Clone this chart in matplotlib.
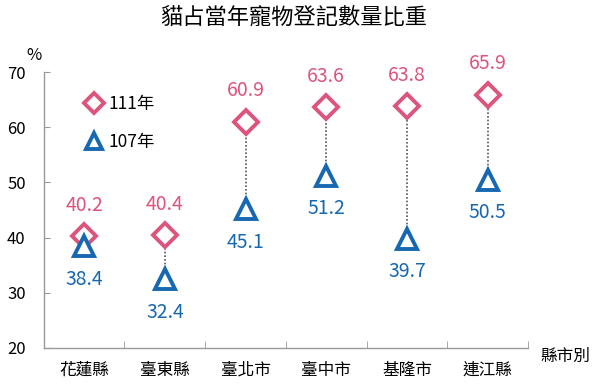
import matplotlib.pyplot as plt

plt.rcParams['font.family'] = ['Noto Sans CJK TC', 'DejaVu Sans']

# Data
counties = ["花蓮縣", "臺東縣", "臺北市", "臺中市", "基隆市", "連江縣"]
y111 = [40.2, 40.4, 60.9, 63.6, 63.8, 65.9]
y107 = [38.4, 32.4, 45.1, 51.2, 39.7, 50.5]

pink = "#DD547C"
blue = "#1768B1"

fig = plt.figure(figsize=(6, 3.9), dpi=100)
ax = fig.add_axes([0.073, 0.108, 0.807, 0.707])

x = list(range(len(counties)))

# dotted connectors
ax.vlines(x, y107, y111, colors="#555555", linestyles=(0, (1, 1.2)), linewidth=1.2, zorder=1)

ax.plot(x, y111, linestyle="none", marker="D", markersize=12.5, markerfacecolor="white",
        markeredgecolor=pink, markeredgewidth=2.8, label="111年", zorder=3)
ax.plot(x, y107, linestyle="none", marker="^", markersize=15, markerfacecolor="white",
        markeredgecolor=blue, markeredgewidth=2.8, label="107年", zorder=3)

for xi, a, b in zip(x, y111, y107):
    ax.annotate(f"{a:.1f}", (xi, a), xytext=(0, 15), textcoords="offset points",
                ha="center", va="bottom", color=pink, fontsize=14)
    ax.annotate(f"{b:.1f}", (xi, b), xytext=(0, -16), textcoords="offset points",
                ha="center", va="top", color=blue, fontsize=14)

ax.set_xlim(-0.5, len(counties) - 0.5)
ax.set_ylim(20, 70)
ax.set_yticks([20, 30, 40, 50, 60, 70])
ax.set_xticks(x)
ax.set_xticklabels(counties, fontsize=12)
ax.set_xticks([i + 0.5 for i in range(-1, len(counties))], minor=True)
ax.tick_params(axis="x", which="major", length=0, pad=10)
ax.tick_params(axis="x", which="minor", direction="in", length=5, color="#999999")
ax.tick_params(axis="y", direction="in", length=4, color="#999999", labelsize=12, pad=13)

for s in ["top", "right"]:
    ax.spines[s].set_visible(False)
for s in ["left", "bottom"]:
    ax.spines[s].set_color("#999999")
    ax.spines[s].set_linewidth(1)

ax.text(-0.02, 1.03, "%", transform=ax.transAxes, ha="center", va="bottom", fontsize=12)
ax.text(1.025, -0.03, "縣市別", transform=ax.transAxes, ha="left", va="center", fontsize=12)

ax.legend(loc="upper left", bbox_to_anchor=(0.047, 0.975), frameon=False, fontsize=12.5,
          handletextpad=0.1, labelspacing=1.15, markerscale=0.8, handlelength=1.4)

fig.text(0.49, 0.956, "貓占當年寵物登記數量比重", ha="center", va="center", fontsize=16)

fig.savefig("out.png", dpi=100)
